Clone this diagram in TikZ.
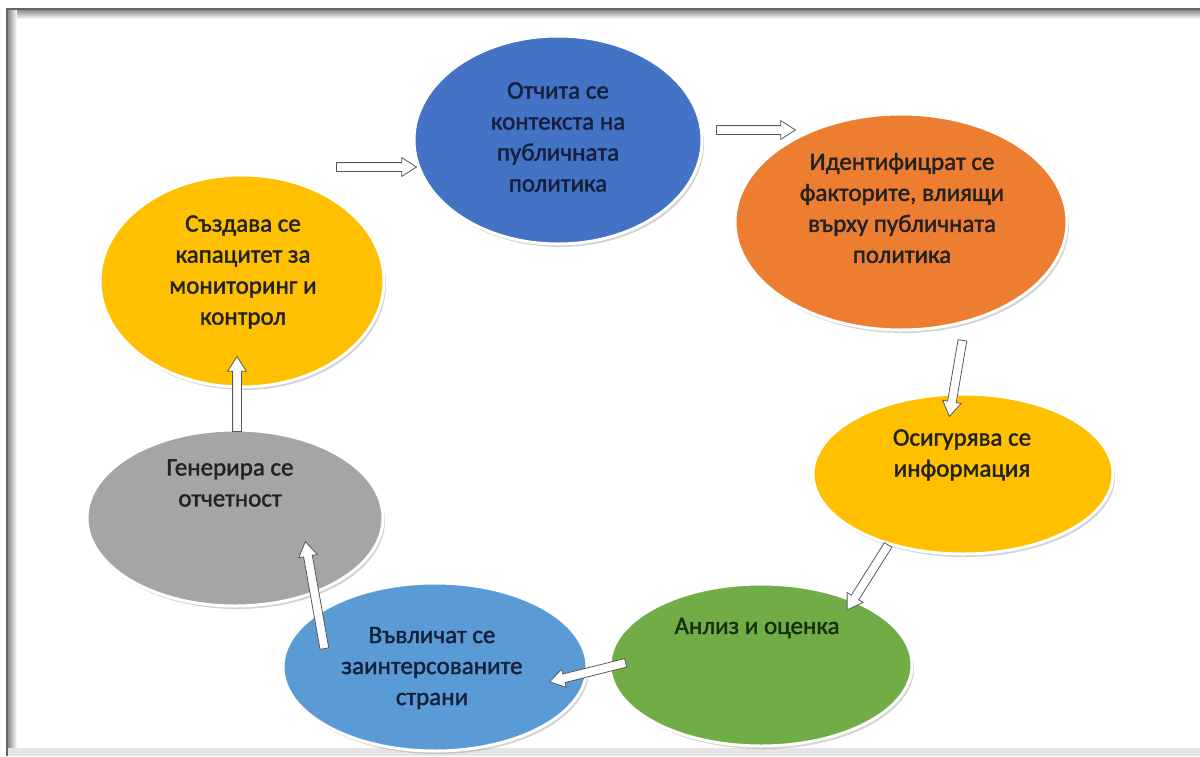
\documentclass[tikz,border=0pt]{standalone}
\usepackage{fontspec}
\setmainfont{Carlito}[FakeBold=1.5]
\usetikzlibrary{shapes.geometric,shapes.arrows,shadows,calc}
\definecolor{cblue}{HTML}{4472C4}
\definecolor{corange}{HTML}{ED7D31}
\definecolor{cyellow}{HTML}{FFC000}
\definecolor{cgreen}{HTML}{70AD47}
\definecolor{clblue}{HTML}{5B9BD5}
\definecolor{cgray}{HTML}{A5A5A5}
\definecolor{ctext}{HTML}{222222}
\definecolor{cbtext}{HTML}{14213D}
\definecolor{cgtext}{HTML}{16300C}
\tikzset{
  bubble/.style={ellipse, draw=white, line width=3pt, inner sep=0pt,
    drop shadow={shadow xshift=2pt, shadow yshift=-3pt, fill=black!35}},
  lbl/.style={align=center, text=ctext, font=\fontsize{25}{31}\selectfont},
  barrow/.style={single arrow, draw=black!65, fill=white, line width=0.8pt,
    inner xsep=0pt, inner ysep=4pt, single arrow head extend=5pt,
    single arrow tip angle=65},
}
\newcommand\blockarr[2]{%
  \path let \p1=($(#2)-(#1)$), \n1={atan2(\y1,\x1)}, \n2={veclen(\x1,\y1)} in
    node[barrow, minimum height=\n2, rotate=\n1] at ($(#1)!0.5!(#2)$) {};}
\begin{document}
\begin{tikzpicture}[x=1pt,y=-1pt]
\useasboundingbox (0,0) rectangle (1200,756);
\fill[white] (0,0) rectangle (1200,756);
% frame
\shade[top color=black!45, bottom color=white] (7,10) rectangle (1200,19);
\shade[left color=black!45, right color=white] (8,10) rectangle (17,748);
\fill[black!10] (8,748) rectangle (1200,756);
\draw[black!60, line width=2.5pt] (7,756) -- (7,9) -- (1200,9);
% ellipses
\node[bubble, fill=cblue,   minimum width=288pt, minimum height=208pt] (e1) at (558,140) {};
\node[bubble, fill=corange, minimum width=332pt, minimum height=216pt] (e2) at (901,222) {};
\node[bubble, fill=cyellow, minimum width=300pt, minimum height=160pt] (e3) at (963,474) {};
\node[bubble, fill=cgreen,  minimum width=302pt, minimum height=162pt] (e4) at (761,665) {};
\node[bubble, fill=clblue,  minimum width=304pt, minimum height=168pt] (e5) at (435,667) {};
\node[bubble, fill=cgray,   minimum width=296pt, minimum height=176pt] (e6) at (235,518) {};
\node[bubble, fill=cyellow, minimum width=284pt, minimum height=212pt] (e7) at (242,281) {};
% texts
\node[lbl, text=cbtext] (t1) at (558,137) {Отчита се\\контекста на\\публичната\\политика};
\node[lbl] (t2) at (902,208) {Идентифицрат се\\факторите, влиящи\\върху публичната\\политика};
\node[lbl] (t3) at (962,455) {Осигурява се\\информация};
\node[lbl, text=cgtext] (t4) at (757,628) {Анлиз и оценка};
\node[lbl, text=cbtext] (t5) at (432,668) {Въвличат се\\заинтерсованите\\страни};
\node[lbl] (t6) at (230,483) {Генерира се\\отчетност};
\node[lbl] (t7) at (243,272) {Създава се\\капацитет за\\мониторинг и\\контрол};
% arrow endpoints
\coordinate (a1s) at (333,167); \coordinate (a1e) at (413,167);
\coordinate (a2s) at (713,130); \coordinate (a2e) at (792,130);
\coordinate (a3s) at (963,337); \coordinate (a3e) at (950,413);
\coordinate (a4s) at (890,542); \coordinate (a4e) at (849,607);
\coordinate (a5s) at (629,662); \coordinate (a5e) at (553,681);
\coordinate (a6s) at (325,652); \coordinate (a6e) at (306,545);
\coordinate (a7s) at (237,435); \coordinate (a7e) at (237,360);
\blockarr{a1s}{a1e}
\blockarr{a2s}{a2e}
\blockarr{a3s}{a3e}
\blockarr{a4s}{a4e}
\blockarr{a5s}{a5e}
\blockarr{a6s}{a6e}
\blockarr{a7s}{a7e}
\end{tikzpicture}
\end{document}
